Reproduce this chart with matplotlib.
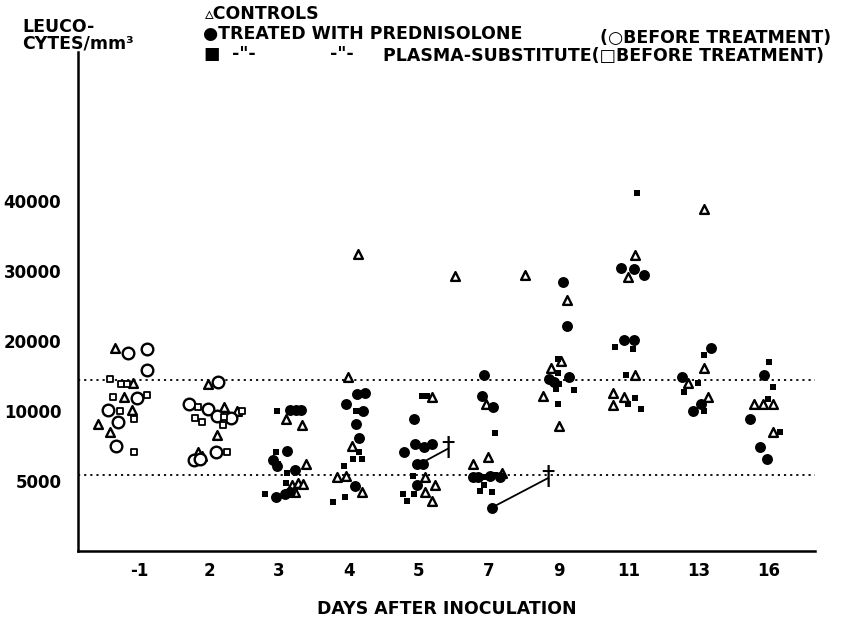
import numpy as np
import matplotlib
matplotlib.use("Agg")
from matplotlib import pyplot as plt

# days on the x axis (categorical, evenly spaced)
days = ["-1", "2", "3", "4", "5", "7", "9", "11", "13", "16"]

# each point: (day index, horizontal jitter in category widths, leucocytes/mm3)
controls = [  # open triangles
    (0, -0.34, 19000), (0, -0.09, 14000), (0, -0.21, 12000), (0, -0.10, 10100), (0, -0.59, 9100), (0, -0.41, 8500),
    (1, -0.01, 13900), (1, 0.21, 10600), (1, 0.40, 10000), (1, 0.11, 8300), (1, -0.16, 7100), (1, -0.10, 6800),
    (2, 0.10, 9400), (2, 0.33, 9000), (2, 0.39, 6200), (2, 0.19, 4700), (2, 0.27, 4850), (2, 0.34, 4800), (2, 0.23, 4200),
    (3, -0.01, 14900), (3, 0.13, 32400), (3, 0.04, 7500), (3, -0.17, 5300), (3, -0.04, 5350), (3, 0.19, 4200),
    (4, 0.51, 29300), (4, 0.19, 12000), (4, 0.09, 5300), (4, 0.23, 4700), (4, 0.09, 4200), (4, 0.19, 3550),
    (5, 0.51, 29500), (5, -0.04, 11000), (5, -0.01, 6700), (5, -0.23, 6200), (5, 0.19, 5550),
    (6, -0.11, 16200), (6, 0.03, 17200), (6, 0.11, 25800), (6, -0.23, 12200), (6, 0.0, 8900),
    (7, 0.09, 32300), (7, -0.01, 29200), (7, 0.09, 15100), (7, -0.23, 12600), (7, -0.07, 12000), (7, -0.23, 10900),
    (8, 0.07, 38900), (8, 0.07, 16100), (8, -0.16, 14000), (8, 0.13, 12000),
    (9, -0.21, 11000), (9, -0.09, 11000), (9, 0.06, 11000), (9, 0.05, 8500),
]
before_circ = [  # open circles, prednisolone group before treatment
    (0, -0.16, 18300), (0, 0.11, 18800), (0, 0.11, 15800), (0, -0.03, 11900), (0, -0.44, 10100), (0, -0.30, 9200), (0, -0.33, 7500),
    (1, 0.13, 14200), (1, -0.29, 11000), (1, -0.01, 10300), (1, 0.11, 9650), (1, 0.31, 9500), (1, 0.10, 7100), (1, -0.21, 6500), (1, -0.13, 6600),
]
before_sq = [  # open squares, plasma-substitute group before treatment
    (0, -0.41, 14600), (0, -0.26, 13900), (0, -0.17, 13900), (0, -0.37, 12000), (0, 0.11, 12300), (0, -0.27, 10000), (0, -0.07, 9400), (0, -0.07, 7100),
    (1, -0.16, 10600), (1, 0.21, 9600), (1, 0.47, 10000), (1, -0.20, 9500), (1, -0.10, 9200), (1, 0.20, 9000), (1, 0.26, 7100),
]
prednisolone = [  # filled circles
    (2, 0.16, 10100), (2, 0.24, 10200), (2, 0.31, 10100), (2, 0.11, 7150), (2, -0.09, 6500), (2, -0.03, 6100), (2, 0.23, 5800), (2, -0.04, 3850), (2, 0.09, 4050), (2, 0.16, 4200),
    (3, 0.11, 12500), (3, 0.23, 12600), (3, -0.04, 11000), (3, 0.20, 10000), (3, 0.10, 9100), (3, 0.14, 8050), (3, 0.09, 4650),
    (4, -0.07, 9400), (4, -0.21, 7100), (4, -0.06, 7650), (4, 0.07, 7400), (4, 0.19, 7650), (4, -0.03, 6200), (4, 0.06, 6200), (4, -0.03, 4700),
    (5, -0.07, 15100), (5, -0.10, 12200), (5, 0.06, 10600), (5, -0.23, 5300), (5, -0.16, 5300), (5, 0.01, 5350), (5, 0.16, 5300), (5, 0.04, 3100),
    (6, 0.06, 28400), (6, 0.11, 22200), (6, -0.14, 14600), (6, -0.07, 14200), (6, 0.14, 14800),
    (7, -0.11, 30400), (7, 0.07, 30300), (7, 0.21, 29400), (7, -0.07, 20100), (7, 0.07, 20100),
    (8, 0.17, 19000), (8, -0.24, 14800), (8, -0.09, 10000), (8, 0.03, 11000),
    (9, -0.07, 15100), (9, -0.27, 9400), (9, -0.13, 7400), (9, -0.03, 6600),
]
plasma = [  # filled squares
    (2, -0.03, 10000), (2, -0.04, 7100), (2, -0.01, 6200), (2, 0.11, 5600), (2, 0.10, 4850), (2, -0.20, 4050),
    (3, 0.10, 10000), (3, 0.14, 7100), (3, 0.06, 6600), (3, 0.19, 6600), (3, -0.07, 6100), (3, -0.06, 3850), (3, -0.23, 3500),
    (4, 0.04, 12100), (4, 0.11, 12100), (4, -0.09, 5350), (4, -0.23, 4050), (4, -0.07, 4050), (4, -0.17, 3550),
    (5, 0.09, 8400), (5, -0.06, 5300), (5, 0.09, 5400), (5, -0.07, 4700), (5, -0.13, 4300), (5, 0.04, 4200),
    (6, -0.01, 17500), (6, -0.01, 15400), (6, 0.0, 13900), (6, 0.21, 13000), (6, -0.04, 13200), (6, -0.01, 11000),
    (7, 0.11, 41200), (7, -0.20, 19100), (7, 0.06, 18900), (7, -0.04, 15200), (7, 0.09, 11900), (7, -0.01, 11000), (7, 0.17, 10300),
    (8, 0.07, 18000), (8, -0.01, 14000), (8, -0.21, 12700), (8, 0.07, 10000),
    (9, 0.0, 17000), (9, 0.06, 13500), (9, -0.01, 11700), (9, 0.15, 8500),
]
# deaths: (day index, jitter, value) of the animal and of the cross
deaths = [((4, 0.04, 6300), (4, 0.41, 7300)), ((5, 0.04, 3100), (5, 0.84, 5200))]

normal_range = [5400, 14400]

# the y axis is not linear: 0, 5000, 10000, 20000 ... are equally spaced
y_knots = [0, 5000, 10000, 20000, 30000, 40000, 50000, 60000, 70000]
y_pos = np.arange(len(y_knots), dtype=float)


def fwd(v):
    return np.interp(v, y_knots, y_pos)


def inv(p):
    return np.interp(p, y_pos, y_knots)


def xy(points):
    pts = np.array(points, dtype=float)
    return pts[:, 0] + pts[:, 1], pts[:, 2]


W, H = 843, 618
fig = plt.figure(figsize=(W / 100, H / 100), dpi=100)
fig.patch.set_facecolor("white")
ax = fig.add_axes([78 / W, 1 - 551 / H, (815 - 78) / W, (551 - 52) / H])
ax.set_yscale("function", functions=(fwd, inv))

x, y = xy(controls)
ax.scatter(x, y, marker="^", s=40, facecolor="white", edgecolor="black", linewidth=1.7, zorder=3)
x, y = xy(before_circ)
ax.scatter(x, y, marker="o", s=70, facecolor="white", edgecolor="black", linewidth=1.7, zorder=3)
x, y = xy(before_sq)
ax.scatter(x, y, marker="s", s=20, facecolor="white", edgecolor="black", linewidth=1.3, zorder=3)
x, y = xy(prednisolone)
ax.scatter(x, y, marker="o", s=62, color="black", linewidth=0, zorder=3)
x, y = xy(plasma)
ax.scatter(x, y, marker="s", s=22, color="black", linewidth=0, zorder=3)

for a, b in deaths:
    ax.plot([a[0] + a[1], b[0] + b[1]], [a[2], b[2]], color="black", lw=1.3, zorder=2)
    ax.text(b[0] + b[1], b[2], "\u2020", ha="center", va="center", fontsize=19, color="black")

for v in normal_range:
    ax.axhline(v, color="black", lw=1.3, ls=(0, (1.2, 2.2)), zorder=1)

ax.set_xlim(-61 / 70, (815 - 139) / 70)
ax.set_ylim(0, 61300)
ax.set_xticks(range(len(days)))
ax.set_xticklabels(days)
ax.set_yticks([5000, 10000, 20000, 30000, 40000])
ax.set_yticklabels(["5000", "10000", "20000", "30000", "40000"])
ax.minorticks_off()
ax.tick_params(length=0, labelsize=12, pad=12)
ax.tick_params(axis="x", pad=8)
for t in ax.get_xticklabels() + ax.get_yticklabels():
    t.set_fontweight("bold")
ax.spines["top"].set_visible(False)
ax.spines["right"].set_visible(False)
ax.spines["left"].set_linewidth(1.8)
ax.spines["bottom"].set_linewidth(1.8)
ax.set_xlabel("DAYS AFTER INOCULATION", fontsize=12.5, labelpad=14, fontweight="bold")


def ftext(px, py, s, **kw):
    kw.setdefault("fontsize", 12.5)
    kw.setdefault("fontweight", "bold")
    fig.text(px / W, 1 - py / H, s, va="baseline", **kw)


ftext(22, 32, "LEUCO-")
ftext(22, 49, "CYTES/mm\u00b3")
ftext(205, 19, "\u25b5CONTROLS")
ftext(203, 39, "\u25cfTREATED WITH PREDNISOLONE")
ftext(600, 43, "(\u25cbBEFORE TREATMENT)")
ftext(203, 59, "\u25a0")
ftext(232, 59, "-\"-")
ftext(330, 59, "-\"-")
ftext(383, 61, "PLASMA-SUBSTITUTE(\u25a1BEFORE TREATMENT)")

fig.savefig("out.png", dpi=100, facecolor="white")
